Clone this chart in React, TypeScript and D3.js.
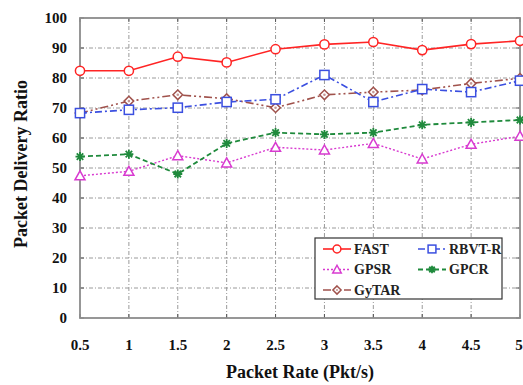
import React from "react";
import * as d3 from "d3";

const packetRates = [0.5, 1, 1.5, 2, 2.5, 3, 3.5, 4, 4.5, 5];
const xTickLabels = ["0.5", "1", "1.5", "2", "2.5", "3", "3.5", "4", "4.5", "5"];
const yTicks = [0, 10, 20, 30, 40, 50, 60, 70, 80, 90, 100];

const fastValues = [82.4, 82.4, 87.1, 85.2, 89.6, 91.2, 92.0, 89.3, 91.3, 92.4];
const rbvtValues = [68.3, 69.4, 70.1, 72.0, 72.9, 81.0, 72.0, 76.3, 75.3, 79.1];
const gpsrValues = [47.4, 48.9, 54.1, 51.7, 56.9, 56.0, 58.2, 53.0, 57.9, 60.6];
const gpcrValues = [53.8, 54.6, 48.0, 58.2, 61.8, 61.2, 61.8, 64.4, 65.2, 66.0];
const gytarValues = [68.3, 72.3, 74.4, 73.1, 70.1, 74.4, 75.3, 76.0, 78.2, 79.9];

type Marker = "circle" | "square" | "triangle" | "star" | "diamond";

interface Series {
  name: string;
  values: number[];
  color: string;
  dash: string;
  width: number;
  marker: Marker;
}

const series: Series[] = [
  { name: "GyTAR", values: gytarValues, color: "#a0524c", dash: "8,3,2,3,2,3", width: 1.6, marker: "diamond" },
  { name: "GPSR", values: gpsrValues, color: "#d83ad0", dash: "2,2", width: 1.4, marker: "triangle" },
  { name: "GPCR", values: gpcrValues, color: "#1f8a3c", dash: "5,3", width: 1.8, marker: "star" },
  { name: "RBVT-R", values: rbvtValues, color: "#3b4fe0", dash: "7,3,2,3", width: 1.6, marker: "square" },
  { name: "FAST", values: fastValues, color: "#ff2424", dash: "", width: 1.6, marker: "circle" },
];

const legendItems = [
  { key: "FAST", col: 0, row: 0 },
  { key: "RBVT-R", col: 1, row: 0 },
  { key: "GPSR", col: 0, row: 1 },
  { key: "GPCR", col: 1, row: 1 },
  { key: "GyTAR", col: 0, row: 2 },
];

const W = 523;
const H = 385;
const margin = { left: 80, right: 2, top: 18, bottom: 67 };
const FONT = '"Liberation Serif", "Times New Roman", Times, "DejaVu Serif", serif';

function MarkerShape({ type, x, y, color, size = 1 }: { type: Marker; x: number; y: number; color: string; size?: number }) {
  const common = { fill: "#fff", stroke: color, strokeWidth: 1.5 };
  switch (type) {
    case "circle":
      return <circle cx={x} cy={y} r={4.6 * size} {...common} />;
    case "square": {
      const s = 4.6 * size;
      return <rect x={x - s} y={y - s} width={2 * s} height={2 * s} {...common} />;
    }
    case "triangle": {
      const s = 5 * size;
      return <path d={`M${x},${y - s}L${x + s},${y + s * 0.8}L${x - s},${y + s * 0.8}Z`} {...common} />;
    }
    case "diamond": {
      const s = 4.8 * size;
      return (
        <g>
          <path d={`M${x},${y - s}L${x + s},${y}L${x},${y + s}L${x - s},${y}Z`} {...common} />
          <circle cx={x} cy={y} r={1.3 * size} fill={color} opacity={0.6} />
        </g>
      );
    }
    case "star": {
      const s = 4.5 * size;
      const d = s * 0.72;
      return (
        <path
          d={`M${x - s},${y}L${x + s},${y}M${x},${y - s}L${x},${y + s}M${x - d},${y - d}L${x + d},${y + d}M${x - d},${y + d}L${x + d},${y - d}`}
          stroke={color}
          strokeWidth={1.8}
          fill="none"
        />
      );
    }
  }
}

export default function App() {
  const x = d3.scaleLinear().domain([0.5, 5]).range([margin.left, W - margin.right - 1]);
  const y = d3.scaleLinear().domain([0, 100]).range([H - margin.bottom, margin.top]);
  const line = d3
    .line<number>()
    .x((_, i) => x(packetRates[i]))
    .y((d) => y(d));

  const x0 = x(0.5);
  const x1 = x(5);
  const y0 = y(0);
  const y1 = y(100);

  const legend = { x: 315, y: 238, w: 187, h: 61 };
  const textStyle = { fontFamily: FONT, fontWeight: 700 as const };

  return (
    <svg width={W} height={H} style={{ position: "absolute", left: 0, top: 0, background: "#fff" }}>
      {/* grid */}
      <g stroke="#9a9a9a" strokeWidth={1} strokeDasharray="4,2,1,2" fill="none">
        {yTicks.slice(1, -1).map((t) => (
          <line key={`gy${t}`} x1={x0} x2={x1} y1={y(t)} y2={y(t)} />
        ))}
        {packetRates.slice(1, -1).map((p) => (
          <line key={`gx${p}`} x1={x(p)} x2={x(p)} y1={y0} y2={y1} />
        ))}
      </g>
      {/* ticks */}
      <g stroke="#555" strokeWidth={1}>
        {yTicks.map((t) => (
          <g key={`ty${t}`}>
            <line x1={x0} x2={x0 + 4} y1={y(t)} y2={y(t)} />
            <line x1={x1} x2={x1 - 4} y1={y(t)} y2={y(t)} />
          </g>
        ))}
        {packetRates.map((p) => (
          <g key={`tx${p}`}>
            <line x1={x(p)} x2={x(p)} y1={y0} y2={y0 - 4} />
            <line x1={x(p)} x2={x(p)} y1={y1} y2={y1 + 4} />
          </g>
        ))}
      </g>
      {/* frame */}
      <rect x={x0} y={y1} width={x1 - x0} height={y0 - y1} fill="none" stroke="#8c8c8c" strokeWidth={1.8} />

      {/* series */}
      {series.map((s) => (
        <g key={s.name}>
          <path d={line(s.values) || ""} fill="none" stroke={s.color} strokeWidth={s.width} strokeDasharray={s.dash} />
          {s.values.map((v, i) => (
            <MarkerShape key={i} type={s.marker} x={x(packetRates[i])} y={y(v)} color={s.color} />
          ))}
        </g>
      ))}

      {/* y tick labels */}
      <g style={{ ...textStyle, fontSize: 15 }} fill="#111" textAnchor="end">
        {yTicks.map((t) => (
          <text key={`ly${t}`} x={67} y={y(t)} dy="0.35em">
            {t}
          </text>
        ))}
      </g>
      {/* x tick labels */}
      <g style={{ ...textStyle, fontSize: 15 }} fill="#111" textAnchor="middle">
        {packetRates.map((p, i) => (
          <text key={`lx${p}`} x={Math.min(x(p), W - 4)} y={350}>
            {xTickLabels[i]}
          </text>
        ))}
      </g>
      <text x={300} y={378} textAnchor="middle" style={{ ...textStyle, fontSize: 18 }} fill="#111">
        Packet Rate (Pkt/s)
      </text>
      <text
        transform={`translate(27,${(y0 + y1) / 2 - 4}) rotate(-90)`}
        textAnchor="middle"
        style={{ ...textStyle, fontSize: 18 }}
        fill="#111"
      >
        Packet Delivery Ratio
      </text>

      {/* legend */}
      <rect x={legend.x} y={legend.y} width={legend.w} height={legend.h} fill="#fff" stroke="#333" strokeWidth={1.2} />
      {legendItems.map((item) => {
        const s = series.find((d) => d.name === item.key)!;
        const lx = legend.x + 8 + item.col * 95;
        const ly = legend.y + 11 + item.row * 20.5;
        return (
          <g key={item.key}>
            <line x1={lx} x2={lx + 28} y1={ly} y2={ly} stroke={s.color} strokeWidth={s.width} strokeDasharray={s.dash} />
            <MarkerShape type={s.marker} x={lx + 14} y={ly} color={s.color} size={0.85} />
            <text x={lx + 31} y={ly} dy="0.35em" style={{ ...textStyle, fontSize: 14 }} fill="#222">
              {s.name}
            </text>
          </g>
        );
      })}
    </svg>
  );
}
